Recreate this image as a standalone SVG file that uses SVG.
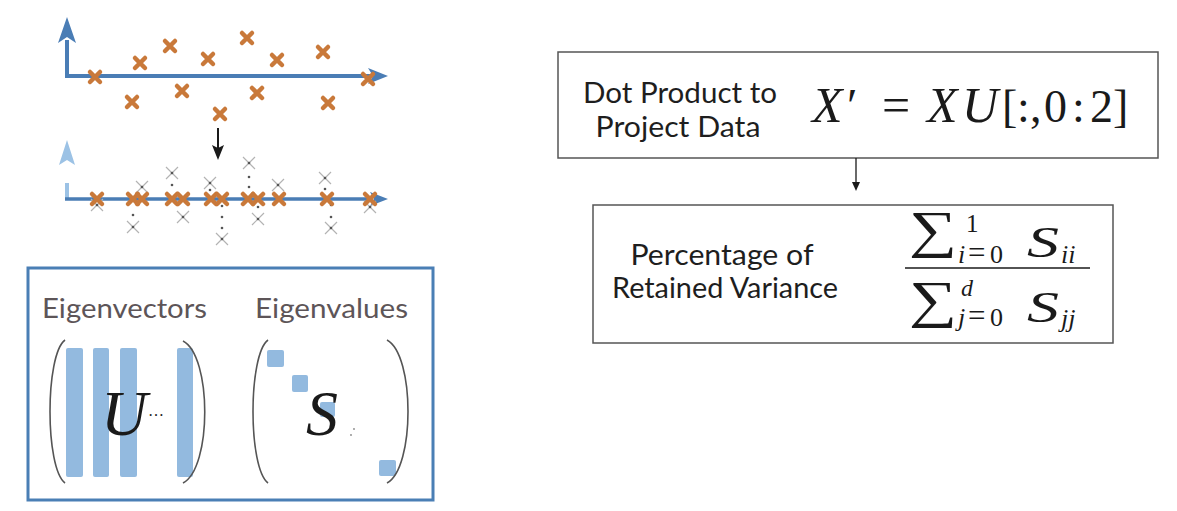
<svg xmlns="http://www.w3.org/2000/svg" xmlns:xlink="http://www.w3.org/1999/xlink" width="1177" height="511" viewBox="0 0 1177 511">
<style>
.ox{fill:none;stroke:#c9793a;stroke-width:4.5;stroke-linecap:round}
.gx{fill:none;stroke:#b3b3b3;stroke-width:1.2}
.dot{fill:#555}
.axis{stroke:#4a7db5;stroke-width:4;fill:none}
.box{fill:#fff;stroke:#555;stroke-width:1.5}
.lbl{font-family:Lato,"Liberation Sans",sans-serif;font-size:29px;fill:#1e1e1e}
.eig{font-family:Lato,"Liberation Sans",sans-serif;font-size:27px;fill:#5d5558}
.m{font-family:"Liberation Serif","DejaVu Serif",serif;fill:#1a1a1a}
.it{font-style:italic}
.bar{fill:#93badf}
.par{fill:none;stroke:#555;stroke-width:1.6}
</style>
<defs>
<path id="ox" class="ox" d="M-5,-5L5,5M5,-5L-5,5"/>
<g id="gx"><path class="gx" d="M-6,-6L6,6M6,-6L-6,6"/><circle class="dot" r="1.3"/></g>
</defs>

<g id="scatter-original">
<line class="axis" x1="67" y1="40" x2="67" y2="76"/>
<line class="axis" x1="65" y1="76" x2="372" y2="76"/>
<polygon fill="#4a7db5" points="67,17 76,43 67,37 58,43"/>
<polygon fill="#4a7db5" points="388,76 368,84 373,76 368,68"/>
<use xlink:href="#ox" x="95" y="77"/>
<use xlink:href="#ox" x="140" y="63"/>
<use xlink:href="#ox" x="170" y="46"/>
<use xlink:href="#ox" x="208" y="59"/>
<use xlink:href="#ox" x="247" y="38"/>
<use xlink:href="#ox" x="277" y="60"/>
<use xlink:href="#ox" x="323" y="52"/>
<use xlink:href="#ox" x="368" y="79"/>
<use xlink:href="#ox" x="132" y="102"/>
<use xlink:href="#ox" x="182" y="91"/>
<use xlink:href="#ox" x="257" y="93"/>
<use xlink:href="#ox" x="220" y="114"/>
<use xlink:href="#ox" x="328" y="103"/>
</g>

<g id="scatter-projected">
<polygon fill="#9cc2e5" points="67,140 75,165 67,160 59,165"/>
<line x1="67" y1="183" x2="67" y2="199" stroke="#9cc2e5" stroke-width="4"/>
<line x1="65" y1="199" x2="372" y2="199" stroke="#4a7db5" stroke-width="3.5"/>
<polygon fill="#4a7db5" points="388,199 370,206 374,199 370,192"/>
<use xlink:href="#gx" x="97" y="205"/>
<use xlink:href="#gx" x="142" y="187"/>
<use xlink:href="#gx" x="133" y="227"/>
<use xlink:href="#gx" x="172" y="173"/>
<use xlink:href="#gx" x="183" y="217"/>
<use xlink:href="#gx" x="210" y="183"/>
<use xlink:href="#gx" x="222" y="239"/>
<use xlink:href="#gx" x="249" y="163"/>
<use xlink:href="#gx" x="258" y="219"/>
<use xlink:href="#gx" x="278" y="185"/>
<use xlink:href="#gx" x="325" y="178"/>
<use xlink:href="#gx" x="331" y="228"/>
<use xlink:href="#gx" x="370" y="207"/>
<g class="dot">
<circle cx="133" cy="215" r="1.3"/>
<circle cx="172" cy="185" r="1.3"/>
<circle cx="222" cy="206" r="1.3"/><circle cx="222" cy="217" r="1.3"/><circle cx="222" cy="228" r="1.3"/>
<circle cx="249" cy="177" r="1.3"/><circle cx="249" cy="187" r="1.3"/>
<circle cx="258" cy="207" r="1.3"/>
<circle cx="325" cy="189" r="1.3"/>
<circle cx="331" cy="205" r="1.3"/><circle cx="331" cy="217" r="1.3"/>
<circle cx="210" cy="190" r="1.3"/>
</g>
<use xlink:href="#ox" x="97" y="199"/>
<use xlink:href="#ox" x="133" y="199"/>
<use xlink:href="#ox" x="142" y="199"/>
<use xlink:href="#ox" x="172" y="199"/>
<use xlink:href="#ox" x="183" y="199"/>
<use xlink:href="#ox" x="211" y="199"/>
<use xlink:href="#ox" x="222" y="199"/>
<use xlink:href="#ox" x="248" y="199"/>
<use xlink:href="#ox" x="258" y="199"/>
<use xlink:href="#ox" x="279" y="199"/>
<use xlink:href="#ox" x="327" y="199"/>
<use xlink:href="#ox" x="370" y="199"/>
</g>

<g id="eigen-box">
<rect x="28" y="268" width="405" height="232" fill="#fff" stroke="#4a7fb5" stroke-width="3"/>
<text class="eig" x="42" y="318" textLength="165" lengthAdjust="spacingAndGlyphs">Eigenvectors</text>
<text class="eig" x="255" y="318" textLength="153" lengthAdjust="spacingAndGlyphs">Eigenvalues</text>
<rect class="bar" x="66" y="348" width="17" height="129" rx="2"/>
<rect class="bar" x="93" y="348" width="16" height="129" rx="2"/>
<rect class="bar" x="120" y="348" width="17" height="129" rx="2"/>
<rect class="bar" x="177" y="348" width="16" height="129" rx="2"/>
<path class="par" d="M65,340C45,355 45,468 65,483"/>
<path class="par" d="M183,341C212,356 212,468 183,483"/>
<text class="m it" x="101" y="435" font-size="64">U</text>
<text class="m" x="148" y="416" font-size="16">…</text>
<rect class="bar" x="267" y="350" width="17" height="17" rx="2"/>
<rect class="bar" x="292" y="375" width="16" height="17" rx="2"/>
<rect class="bar" x="320" y="402" width="15" height="15" rx="2"/>
<rect class="bar" x="379" y="460" width="17" height="16" rx="2"/>
<path class="par" d="M268,340C248,355 248,468 268,483"/>
<path class="par" d="M387,340C415,355 415,468 387,483"/>
<text class="m it" x="306" y="435" font-size="64">S</text>
<circle cx="354" cy="429" r="0.9" fill="#888"/>
<circle cx="351" cy="435" r="0.9" fill="#888"/>
</g>

<g id="project-box">
<rect class="box" x="558" y="52" width="600" height="106"/>
<text class="lbl" x="680" y="103" text-anchor="middle" textLength="194" lengthAdjust="spacingAndGlyphs">Dot Product to</text>
<text class="lbl" x="678" y="137" text-anchor="middle" textLength="165" lengthAdjust="spacingAndGlyphs">Project Data</text>
<text class="m" y="122" font-size="50"><tspan class="it" x="812">X</tspan><tspan x="847" font-size="48">′</tspan><tspan x="882">=</tspan><tspan class="it" x="927">X</tspan><tspan class="it" x="962">U</tspan></text>
<text class="m" y="122" font-size="46"><tspan x="1002">[</tspan><tspan x="1017">:</tspan><tspan x="1030">,</tspan><tspan x="1044">0</tspan><tspan x="1072">:</tspan><tspan x="1090">2</tspan><tspan x="1113">]</tspan></text>
</g>

<g id="variance-box">
<rect class="box" x="593" y="205" width="520" height="138"/>
<text class="lbl" x="722" y="265" text-anchor="middle" textLength="183" lengthAdjust="spacingAndGlyphs">Percentage of</text>
<text class="lbl" x="725" y="298" text-anchor="middle" textLength="226" lengthAdjust="spacingAndGlyphs">Retained Variance</text>
<text class="m" x="0" y="0" font-size="52" font-family="DejaVu Serif" transform="translate(909,247) scale(1.3,1)">∑</text>
<text class="m" x="966" y="232" font-size="25">1</text>
<text class="m" y="263" font-size="26"><tspan class="it" x="958">i</tspan><tspan x="968" font-size="31">=</tspan><tspan x="990">0</tspan></text>
<text class="m it" x="1027" y="257" font-size="44" textLength="32" lengthAdjust="spacingAndGlyphs">S</text>
<text class="m it" x="1061" y="263" font-size="26">ii</text>
<line x1="905" y1="268" x2="1090" y2="268" stroke="#1a1a1a" stroke-width="1.5"/>
<text class="m" x="0" y="0" font-size="52" font-family="DejaVu Serif" transform="translate(909,317) scale(1.3,1)">∑</text>
<text class="m it" x="961" y="296" font-size="24">d</text>
<text class="m" y="326" font-size="26"><tspan class="it" x="958">j</tspan><tspan x="968" font-size="31">=</tspan><tspan x="990">0</tspan></text>
<text class="m it" x="1027" y="322" font-size="44" textLength="32" lengthAdjust="spacingAndGlyphs">S</text>
<text class="m it" x="1061" y="327" font-size="26">jj</text>
</g>

<g id="connectors">
<line x1="218" y1="128" x2="218" y2="148" stroke="#1a1a1a" stroke-width="2"/>
<polygon fill="#1a1a1a" points="218,160 212,145 218,148 224,145"/>
<line x1="856" y1="158" x2="856" y2="183" stroke="#1a1a1a" stroke-width="1.3"/>
<polygon fill="#1a1a1a" points="856,191 852,182 860,182"/>
</g>
</svg>
